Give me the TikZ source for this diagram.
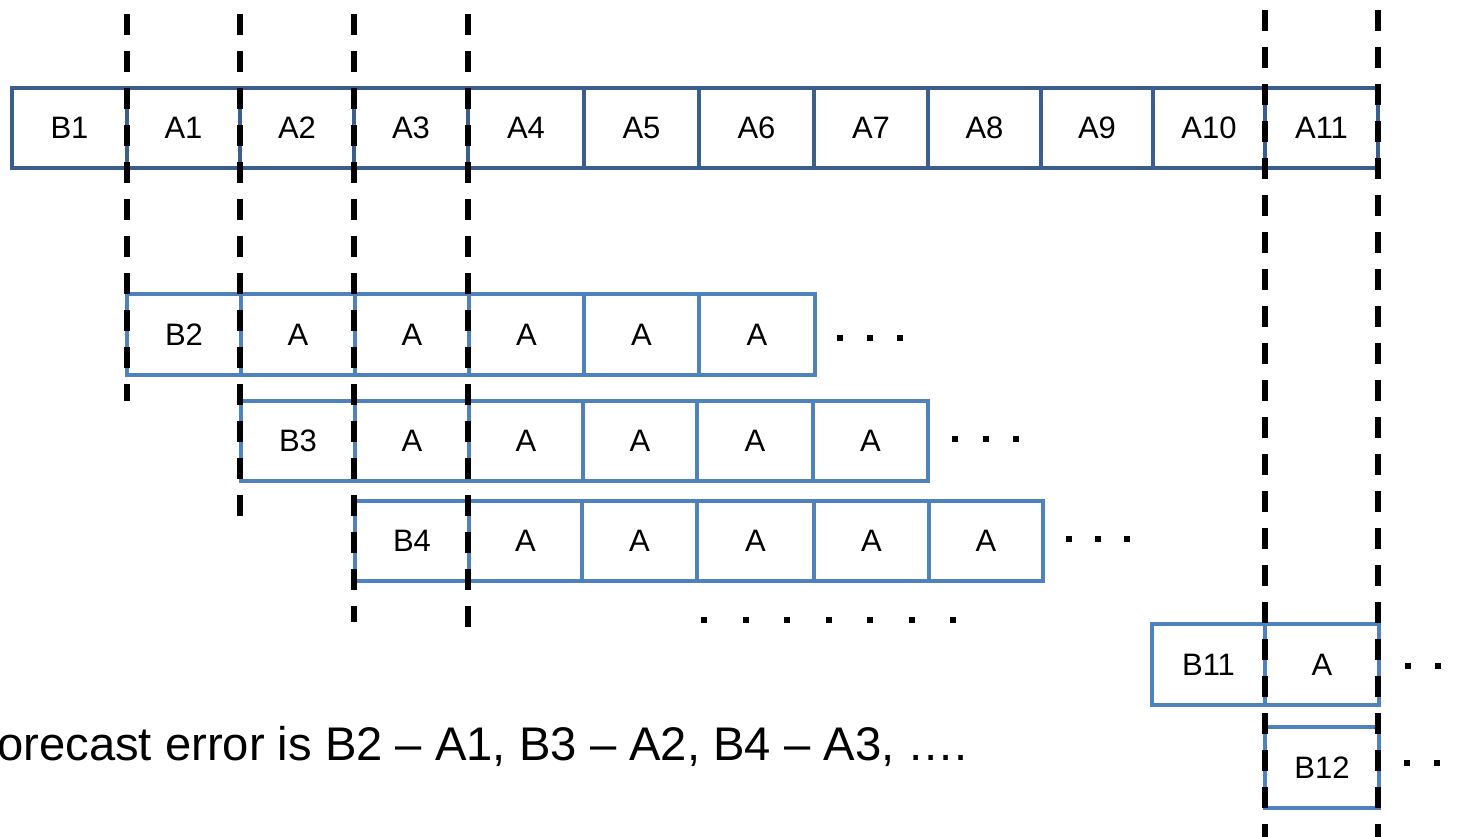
\documentclass[tikz,border=0pt]{standalone}
\usepackage{fontspec}
\setmainfont{Liberation Sans}
\definecolor{topblue}{HTML}{3B5E8C}
\definecolor{rowblue}{HTML}{4F81BD}
\tikzset{
  topcell/.style={draw=topblue, line width=2.3pt, inner sep=0pt, outer sep=0pt, font=\fontsize{15.5}{18}\selectfont},
  rowcell/.style={draw=rowblue, line width=2.1pt, inner sep=0pt, outer sep=0pt, font=\fontsize{15.5}{18}\selectfont},
  guide/.style={line width=2.6pt, dash pattern=on 10.5pt off 8pt},
  dotsq/.style={fill=black, minimum size=3.4pt, inner sep=0pt, outer sep=0pt},
  caption/.style={anchor=base west, inner sep=0pt, font=\fontsize{23.6}{28}\selectfont}
}
\newcommand\cellbox[7]{%
  \node[#7, minimum width={(#3-#2)*0.5pt}, minimum height={(#5-#4)*0.5pt}] (#1) at ({(#2+#3)/2},{(#4+#5)/2}) {#6};}
\begin{document}
\begin{tikzpicture}[x=0.5pt,y=-0.5pt]
\useasboundingbox (0,0) rectangle (1462,836);
\clip (0,0) rectangle (1462,836);
% top row
\foreach \n/\l/\r/\t in {0/12/127/B1,1/127/240/A1,2/240/354/A2,3/354/468/A3,4/468/584/A4,5/584/699/A5,6/699/814/A6,7/814/928/A7,8/928/1041/A8,9/1041/1153/A9,10/1153/1265/A10,11/1265/1378/A11}
  {\cellbox{t\n}{\l}{\r}{88}{168}{\t}{topcell}}
% row B2
\foreach \n/\l/\r/\t in {0/127/241/B2,1/241/355/A,2/355/469/A,3/469/584/A,4/584/699/A,5/699/815/A}
  {\cellbox{r2c\n}{\l}{\r}{294}{375}{\t}{rowcell}}
% row B3
\foreach \n/\l/\r/\t in {0/241/355/B3,1/355/469/A,2/469/583/A,3/583/697/A,4/697/813/A,5/813/928/A}
  {\cellbox{r3c\n}{\l}{\r}{401}{481}{\t}{rowcell}}
% row B4
\foreach \n/\l/\r/\t in {0/355/469/B4,1/469/582/A,2/582/697/A,3/697/814/A,4/814/929/A,5/929/1043/A}
  {\cellbox{r4c\n}{\l}{\r}{501}{581}{\t}{rowcell}}
% row B11
\cellbox{r11c0}{1152}{1265}{624}{705}{B11}{rowcell}
\cellbox{r11c1}{1265}{1379}{624}{705}{A}{rowcell}
% row B12
\cellbox{r12c0}{1265}{1379}{727}{808}{B12}{rowcell}
% dots
\foreach \x [count=\i] in {840,870,900} {\node[dotsq] (da\i) at (\x,338) {};}
\foreach \x [count=\i] in {955,986,1016} {\node[dotsq] (db\i) at (\x,439) {};}
\foreach \x [count=\i] in {1069,1098,1127} {\node[dotsq] (dc\i) at (\x,539) {};}
\foreach \x [count=\i] in {704,746,787,829,870,912,953} {\node[dotsq] (dd\i) at (\x,620) {};}
\foreach \x [count=\i] in {1408,1438} {\node[dotsq] (de\i) at (\x,666) {};}
\foreach \x [count=\i] in {1407,1437} {\node[dotsq] (df\i) at (\x,763) {};}
% guide lines
\coordinate (g1a) at (127,14);  \coordinate (g1b) at (127,401);
\coordinate (g2a) at (240,14);  \coordinate (g2b) at (240,519);
\coordinate (g3a) at (354,14);  \coordinate (g3b) at (354,622);
\coordinate (g4a) at (468,14);  \coordinate (g4b) at (468,628);
\coordinate (g5a) at (1265,10); \coordinate (g5b) at (1265,840);
\coordinate (g6a) at (1378,10); \coordinate (g6b) at (1378,840);
\foreach \g in {1,...,6} {\draw[guide] (g\g a) -- (g\g b);}
% caption
\node[caption] (cap) at (-32,760) {Forecast error is B2 – A1, B3 – A2, B4 – A3, ….};
\end{tikzpicture}
\end{document}
